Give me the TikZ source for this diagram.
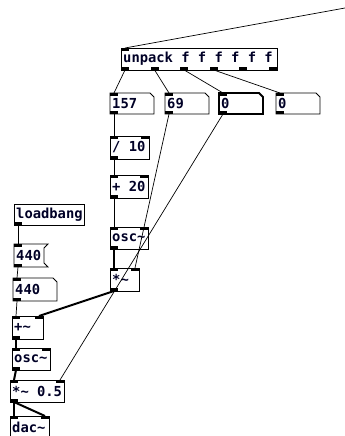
\documentclass[tikz,border=0pt]{standalone}
\usepackage{fontspec}
\newfontfamily\pdfont{DejaVu Sans Mono}
\tikzset{
  box/.style={draw=black,line width=0.9pt},
  selbox/.style={draw=black,line width=1.8pt},
  port/.style={fill=black},
  ctl/.style={draw=black,line width=0.7pt},
  sig/.style={draw=black,line width=2pt},
  lbl/.style={anchor=west,inner sep=0pt,font=\pdfont\bfseries\fontsize{13.8}{15}\selectfont,text=black!85!blue}
}
\newcommand\tld{{\char`~}}
\newcommand\objbox[5][box]{\draw[#1] (#2,#3) rectangle (#4,#5);}
\newcommand\numbox[5][box]{\draw[#1] (#2,#3) -- (#4-4,#3) -- (#4,#3+4) -- (#4,#5) -- (#2,#5) -- cycle;}
\newcommand\msgbox[4]{\draw[box] (#1,#2) -- (#3+4,#2) -- (#3,#2+4) -- (#3,#4-4) -- (#3+4,#4) -- (#1,#4) -- cycle;}
\newcommand\inp[3]{\fill[port] (#2,#3) rectangle ++(8,3); \coordinate (#1) at (#2+4,#3);}
\newcommand\outp[3]{\fill[port] (#2,#3) rectangle ++(8,-3); \coordinate (#1) at (#2+4,#3);}
\begin{document}
\begin{tikzpicture}[x=1pt,y=-1pt]
\useasboundingbox (0,0) rectangle (345,436);
\clip (0,0) rectangle (345,436);
% unpack
\objbox{121}{48}{277}{70}
\node[lbl] (unpack) at (123,59) {unpack f f f f f f};
\inp{unpack-i1}{121}{48}
\outp{unpack-o1}{121}{70}
\outp{unpack-o2}{150.6}{70}
\outp{unpack-o3}{180.2}{70}
\outp{unpack-o4}{209.8}{70}
\outp{unpack-o5}{239.4}{70}
\outp{unpack-o6}{269}{70}
\coordinate (free) at (345,8);
% number boxes row
\numbox{110}{93}{154}{114}
\node[lbl] (n157) at (112,103.5) {157};
\inp{n157-i}{110}{93}\outp{n157-o}{110}{114}
\numbox{165}{93}{209}{114}
\node[lbl] (n69) at (167,103.5) {69};
\inp{n69-i}{165}{93}\outp{n69-o}{165}{114}
\numbox[selbox]{219}{93}{263}{114}
\node[lbl] (n0a) at (221,103.5) {0};
\inp{n0a-i}{219}{93}\outp{n0a-o}{219}{114}
\numbox{276}{93}{320}{114}
\node[lbl] (n0b) at (278,103.5) {0};
\inp{n0b-i}{276}{93}\outp{n0b-o}{276}{114}
% / 10
\objbox{110}{136}{149}{159}
\node[lbl] (div) at (112,147.5) {/ 10};
\inp{div-i1}{110}{136}\inp{div-i2}{141}{136}\outp{div-o}{110}{159}
% + 20
\objbox{110}{175}{148}{198}
\node[lbl] (add) at (112,186.5) {+ 20};
\inp{add-i1}{110}{175}\inp{add-i2}{140}{175}\outp{add-o}{110}{198}
% osc~ upper
\objbox{110}{227}{148}{249}
\node[lbl] (osc1) at (112,238) {osc\tld};
\inp{osc1-i1}{110}{227}\inp{osc1-i2}{140}{227}\outp{osc1-o}{110}{249}
% *~ upper
\objbox{110}{268}{139}{291}
\node[lbl] (mul1) at (112,279.5) {*\tld};
\inp{mul1-i1}{110}{268}\inp{mul1-i2}{131}{268}\outp{mul1-o}{110}{291}
% loadbang
\objbox{14}{204}{84}{225}
\node[lbl] (lb) at (16,214.5) {loadbang};
\outp{lb-o}{14}{225}
% 440 message
\msgbox{14}{244}{44}{267}
\node[lbl] (msg) at (16,255.5) {440};
\inp{msg-i}{14}{244}\outp{msg-o}{14}{267}
% 440 number
\numbox{13}{278}{57}{301}
\node[lbl] (n440) at (15,289.5) {440};
\inp{n440-i}{13}{278}\outp{n440-o}{13}{301}
% +~
\objbox{12}{316}{43}{339}
\node[lbl] (addsig) at (14,327.5) {+\tld};
\inp{addsig-i1}{12}{316}\inp{addsig-i2}{35}{316}\outp{addsig-o}{12}{339}
% osc~ lower
\objbox{12}{348}{50}{370}
\node[lbl] (osc2) at (14,359) {osc\tld};
\inp{osc2-i1}{12}{348}\inp{osc2-i2}{42}{348}\outp{osc2-o}{12}{370}
% *~ 0.5
\objbox{10}{380}{64}{402}
\node[lbl] (mul2) at (12,391) {*\tld{} 0.5};
\inp{mul2-i1}{10}{380}\inp{mul2-i2}{56}{380}\outp{mul2-o}{10}{402}
% dac~
\objbox{10}{416}{49}{440}
\node[lbl] (dac) at (12,427.5) {dac\tld};
\inp{dac-i1}{10}{416}\inp{dac-i2}{41}{416}
% connections
\draw[ctl] (free) -- (unpack-i1);
\draw[ctl] (unpack-o1) -- (n157-i);
\draw[ctl] (unpack-o2) -- (n69-i);
\draw[ctl] (unpack-o3) -- (n0a-i);
\draw[ctl] (unpack-o4) -- (n0b-i);
\draw[ctl] (n157-o) -- (div-i1);
\draw[ctl] (div-o) -- (add-i1);
\draw[ctl] (add-o) -- (osc1-i1);
\draw[sig] (osc1-o) -- (mul1-i1);
\draw[ctl] (n69-o) -- (mul1-i2);
\draw[ctl] (n0a-o) -- (mul2-i2);
\draw[sig] (mul1-o) -- (addsig-i2);
\draw[ctl] (lb-o) -- (msg-i);
\draw[ctl] (msg-o) -- (n440-i);
\draw[ctl] (n440-o) -- (addsig-i1);
\draw[sig] (addsig-o) -- (osc2-i1);
\draw[sig] (osc2-o) -- (mul2-i1);
\draw[sig] (mul2-o) -- (dac-i1);
\draw[sig] (mul2-o) -- (dac-i2);
\end{tikzpicture}
\end{document}
